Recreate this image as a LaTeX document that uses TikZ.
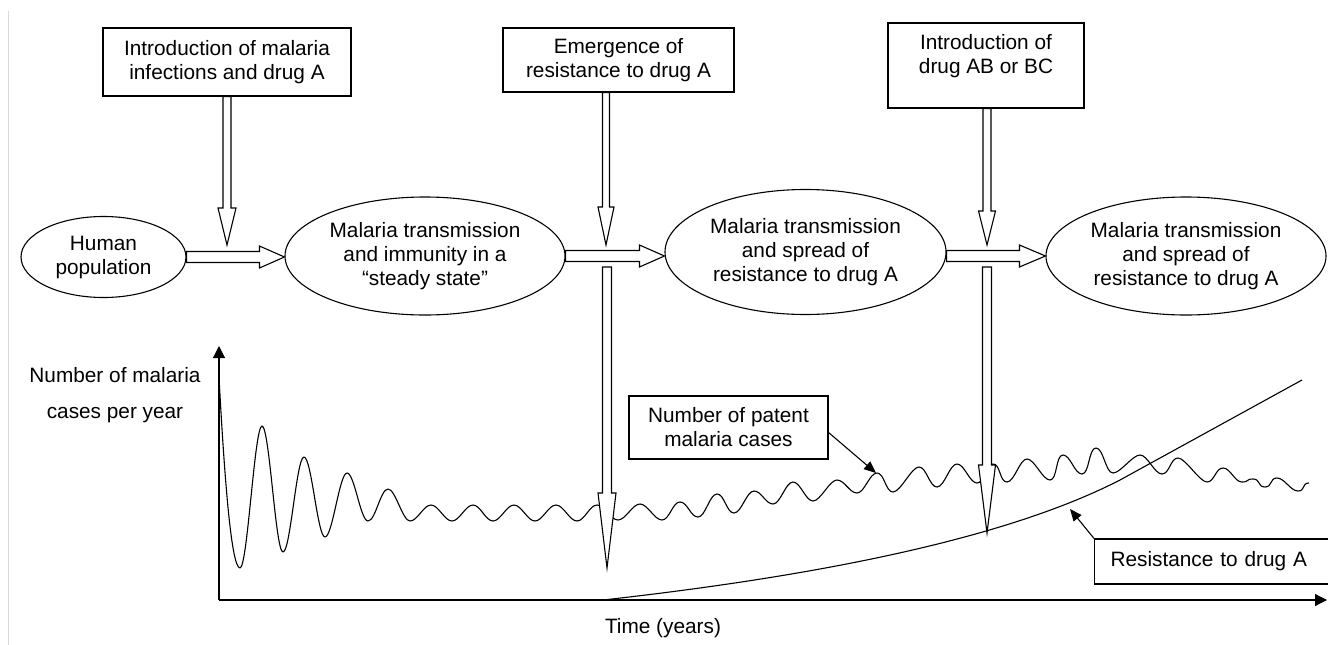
\documentclass[tikz,border=0pt]{standalone}
\usepackage{fontspec}
\setmainfont{Liberation Sans}
\usetikzlibrary{shapes.geometric,arrows.meta,calc}
% block (hollow) arrows: start, tip, half shaft width, half head width, head length
\newcommand\blkdown[5]{\draw[blk] ($(#1)+(-#3,0)$) -- ($(#2)+(-#3,-#5)$) -- ($(#2)+(-#4,-#5)$) -- (#2) -- ($(#2)+(#4,-#5)$) -- ($(#2)+(#3,-#5)$) -- ($(#1)+(#3,0)$) -- cycle;}
\newcommand\blkright[5]{\draw[blk] ($(#1)+(0,-#3)$) -- ($(#2)+(-#5,-#3)$) -- ($(#2)+(-#5,-#4)$) -- (#2) -- ($(#2)+(-#5,#4)$) -- ($(#2)+(-#5,#3)$) -- ($(#1)+(0,#3)$) -- cycle;}
\begin{document}
\begin{tikzpicture}[x=1pt,y=-1pt,line width=1.1pt,
  every node/.style={font=\fontsize{20.8}{24}\selectfont},
  box/.style={draw, rectangle, align=center, inner sep=0pt},
  oval/.style={draw, ellipse, align=center, inner sep=0pt},
  blk/.style={draw, fill=white, line join=miter},
  pointer/.style={-{Triangle[length=12pt,width=10pt]}},
  axis/.style={-{Triangle[length=12pt,width=12pt]}}]
\useasboundingbox (0,0) rectangle (1328,645);
\clip (0,0) rectangle (1328,645);
\draw[black!15, line width=0.8pt] (8,11) -- (8,645);

% top boxes
\node[box, minimum width=248, minimum height=68] (b1) at (227,62) {Introduction of malaria\\infections and drug A};
\node[box, minimum width=231, minimum height=64] (b2) at (618.5,60) {Emergence of\\resistance to drug A};
\node[box, minimum width=196, minimum height=85] (b3) at (986,65.5) {Introduction of\\drug AB or BC\\\mbox{}};

% ellipses
\node[oval, minimum width=165, minimum height=81] (e1) at (103.5,257) {Human\\population};
\node[oval, minimum width=280, minimum height=118] (e2) at (425,256) {Malaria transmission\\and immunity in a\\\textquotedblleft steady state\textquotedblright};
\node[oval, minimum width=281, minimum height=125] (e3) at (805.5,252) {Malaria transmission\\and spread of\\resistance to drug A};
\node[oval, minimum width=280, minimum height=118] (e4) at (1186,256) {Malaria transmission\\and spread of\\resistance to drug A};

% horizontal block arrows
\blkright{e1.east}{e1.east -| e2.west}{5.5}{11}{25}
\blkright{e2.east}{e2.east -| e3.west}{5.5}{11}{25}
\blkright{e3.east |- e4.west}{e4.west}{5.5}{11}{26}

% axes
\coordinate (O) at (219,600);
\coordinate (ytop) at (219,346);
\coordinate (xend) at (1327,600);
\draw[axis] (O) -- (ytop);
\draw[axis] (O) -- (xend);
\node[align=center, font=\fontsize{20.8}{36}\selectfont] (yl) at (115,395) {Number of malaria\\cases per year};
\node (xl) at (663,628) {Time (years)};

% malaria cases curve
\draw[line join=round] (219,377) .. controls (224,470) and (231,568) .. (240,568)
  foreach \x/\y in {262/426,283/552,304/457,325/537,347/473,368/521,388/489,410/521,431/505,
    452/521,473/505,493/521,514/505,535/521,556/505,577/521,597/505,618/520,640/504,
    662/520,680/502,698/517,717/494,734/513,754/491,773/504,793/482,813/501,837/480,
    857/493,877/473,893/492,919/467,937/487,957/464,977/483,993/464,1007/482,1027/459,
    1050/480,1063/455,1082/474,1096/448,1113/473,1140/455,1162/474,1178/458,1207/482,
    1223/468,1242/482,1253/479,1265/487,1277/478,1298/491,1309/483}
  { .. controls +(7.5,0) and +(-7.5,0) .. (\x,\y) };

% resistance curve
\draw (603,600) .. controls (845,573) and (1017,533) .. (1120,480) -- (1302,380);

% down block arrows
\coordinate (t1) at (227,245);
\coordinate (t2) at (606,245);
\coordinate (t3) at (987,245);
\blkdown{b1.south}{t1}{4}{9}{37}
\blkdown{b2.south -| t2}{t2}{3.5}{8}{38}
\blkdown{b3.south -| t3}{t3}{4}{8.5}{34}
\coordinate (s2) at (607,267);
\coordinate (u2) at (607,568);
\coordinate (s3) at (987,267);
\coordinate (u3) at (987,533);
\blkdown{s2}{u2}{4.5}{9}{75}
\blkdown{s3}{u3}{4.5}{8.5}{68}

% labels with pointers
\node[box, minimum width=199, minimum height=63] (pb) at (728.5,427.5) {Number of patent\\malaria cases};
\coordinate (pk) at (876,473);
\draw[pointer] ($(pb.east)+(0,5)$) -- (pk);
\node[box, anchor=west, text width=214pt, inner xsep=16pt, minimum height=45, align=left] (rb) at (1094,561.5) {Resistance to drug A};
\coordinate (rk) at (1070,509);
\draw[pointer] (rb.north west) -- (rk);
\end{tikzpicture}
\end{document}
